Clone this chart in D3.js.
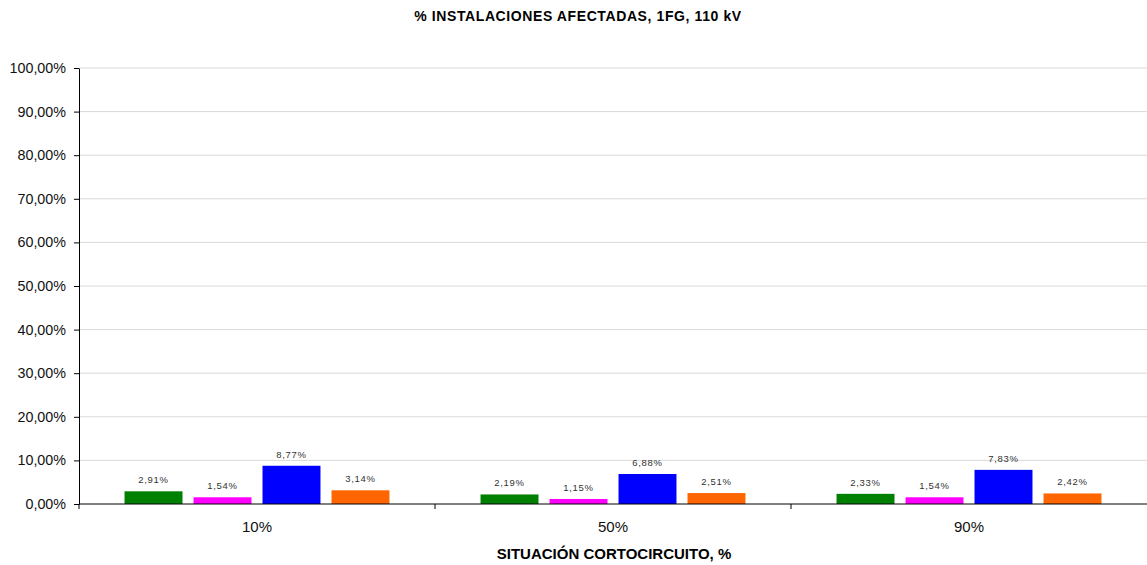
<!DOCTYPE html>
<html>
<head>
<meta charset="utf-8">
<script src="https://cdn.jsdelivr.net/npm/d3@7"></script>
<style>
  body { margin: 0; background: #fff; }
  text { font-family: Arial, "Liberation Sans", sans-serif; }
</style>
</head>
<body>
<div id="container"></div>
<script>
/** DATA */
const categories = ["10%", "50%", "90%"];
const seriesNames = ["Serie 1", "Serie 2", "Serie 3", "Serie 4"];
const serie1 = [2.91, 2.19, 2.33];
const serie2 = [1.54, 1.15, 1.54];
const serie3 = [8.77, 6.88, 7.83];
const serie4 = [3.14, 2.51, 2.42];
const yTicks = [0, 10, 20, 30, 40, 50, 60, 70, 80, 90, 100];
const colors = ["#008000", "#ff00ff", "#0000ff", "#ff6600"];

/** CONSTANTS */
const width = 1147,
  height = 565,
  margin = { top: 68, bottom: 61, left: 79, right: 0 };

const allSeries = [serie1, serie2, serie3, serie4];
const fmt = v => d3.format(".2f")(v).replace(".", ",") + "%";

const svg = d3.select("#container")
  .append("svg")
  .attr("width", width)
  .attr("height", height);

// scales
const x0 = d3.scaleBand()
  .domain(categories)
  .range([margin.left, width - margin.right])
  .paddingInner(0)
  .paddingOuter(0);

const x1 = d3.scaleBand()
  .domain(seriesNames)
  .range([0, x0.bandwidth()])
  .paddingInner(0.16)
  .paddingOuter(0.66);

const y = d3.scaleLinear()
  .domain([0, 100])
  .range([height - margin.bottom, margin.top]);

// gridlines
svg.append("g")
  .selectAll("line")
  .data(yTicks.filter(d => d > 0))
  .join("line")
  .attr("x1", margin.left)
  .attr("x2", width - margin.right)
  .attr("y1", d => y(d))
  .attr("y2", d => y(d))
  .attr("stroke", "#d9d9d9")
  .attr("stroke-width", 1);

// bars
const groups = svg.append("g")
  .selectAll("g")
  .data(categories)
  .join("g")
  .attr("transform", d => `translate(${x0(d)},0)`);

groups.selectAll("rect")
  .data((c, i) => seriesNames.map((s, j) => ({ s, j, v: allSeries[j][i] })))
  .join("rect")
  .attr("x", d => x1(d.s))
  .attr("width", x1.bandwidth())
  .attr("y", d => y(d.v))
  .attr("height", d => y(0) - y(d.v))
  .attr("fill", d => colors[d.j]);

groups.selectAll("text")
  .data((c, i) => seriesNames.map((s, j) => ({ s, j, v: allSeries[j][i] })))
  .join("text")
  .attr("x", d => x1(d.s) + x1.bandwidth() / 2)
  .attr("y", d => y(d.v) - 8)
  .attr("text-anchor", "middle")
  .attr("font-family", "'DejaVu Sans', sans-serif")
  .attr("font-size", 9.5)
  .attr("letter-spacing", 0.7)
  .attr("fill", "#333")
  .text(d => fmt(d.v));

// y axis
const yAxis = svg.append("g")
  .attr("transform", `translate(${margin.left},0)`)
  .call(d3.axisLeft(y).tickValues(yTicks).tickSize(5).tickSizeOuter(0).tickFormat(fmt));
yAxis.select(".domain").attr("stroke", "#000");
yAxis.selectAll(".tick line").attr("stroke", "#000");
yAxis.selectAll(".tick text")
  .attr("font-size", 14.3)
  .attr("fill", "#111")
  .attr("x", -13);

// x axis
const xAxisG = svg.append("g")
  .attr("transform", `translate(0,${y(0)})`);
xAxisG.append("line")
  .attr("x1", margin.left)
  .attr("x2", width - margin.right)
  .attr("stroke", "#000");
xAxisG.selectAll(".xtick")
  .data(categories.slice(1))
  .join("line")
  .attr("class", "xtick")
  .attr("x1", d => x0(d))
  .attr("x2", d => x0(d))
  .attr("y1", 0)
  .attr("y2", 5)
  .attr("stroke", "#000");
xAxisG.append("line")
  .attr("x1", margin.left)
  .attr("x2", margin.left)
  .attr("y1", 0)
  .attr("y2", 5)
  .attr("stroke", "#000");
xAxisG.selectAll(".xlabel")
  .data(categories)
  .join("text")
  .attr("class", "xlabel")
  .attr("x", d => x0(d) + x0.bandwidth() / 2)
  .attr("y", 28)
  .attr("text-anchor", "middle")
  .attr("font-size", 15)
  .attr("fill", "#111")
  .text(d => d);

// titles
svg.append("text")
  .attr("x", 578)
  .attr("y", 21)
  .attr("text-anchor", "middle")
  .attr("font-size", 14)
  .attr("font-weight", "bold")
  .attr("letter-spacing", 0.6)
  .text("% INSTALACIONES AFECTADAS, 1FG, 110 kV");

svg.append("text")
  .attr("x", 614)
  .attr("y", 559)
  .attr("text-anchor", "middle")
  .attr("font-size", 15)
  .attr("font-weight", "bold")
  .text("SITUACIÓN CORTOCIRCUITO, %");
</script>
</body>
</html>
